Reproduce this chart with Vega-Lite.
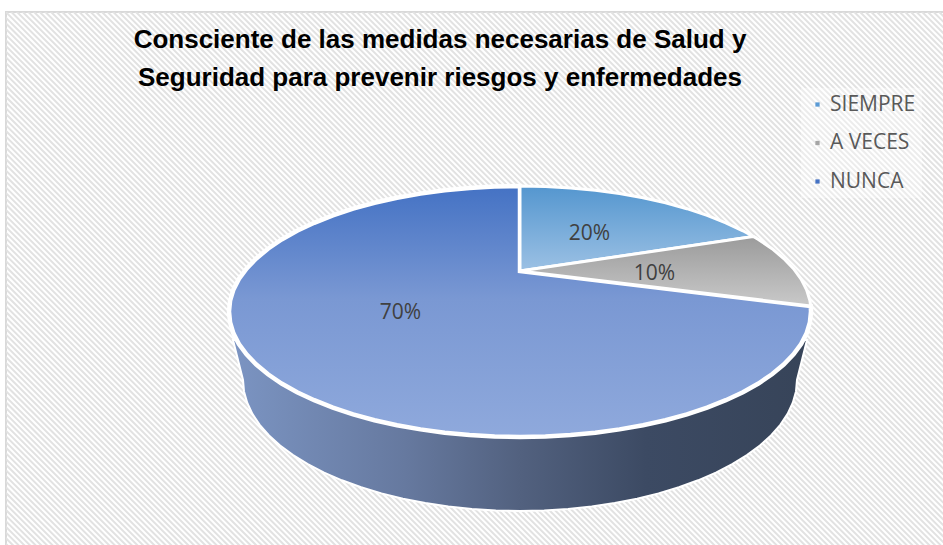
{"$schema":"https://vega.github.io/schema/vega-lite/v6.json","width":940,"height":536,"autosize":"none","padding":{"left":6,"top":12,"right":0,"bottom":0},"background":"white",
"title":{"text":["Consciente de las medidas necesarias de Salud y","Seguridad para prevenir riesgos y enfermedades"],"font":"Liberation Sans","fontWeight":"bold","fontSize":26,"color":"#000000","lineHeight":38.5,"anchor":"middle","frame":"group","baseline":"alphabetic","dx":-36,"dy":100,"offset":0},
"config":{"view":{"fill":"white","stroke":"#d9d9d9","strokeWidth":2}},
"datasets":{
"slices":[{"slice":"SIEMPRE","pct":0.2,"lx":589.5,"ly":234},{"slice":"A VECES","pct":0.1,"lx":654.5,"ly":274},{"slice":"NUNCA","pct":0.7,"lx":400.5,"ly":313}],
"hatch":[{"x":0,"y":545,"x2":745,"y2":-200}],
"outline":[
{"part":"SIEMPRE","seq":0,"x":520,"y":271},{"part":"SIEMPRE","seq":1,"x":520,"y":186},{"part":"SIEMPRE","seq":2,"x":545.4,"y":186.5},{"part":"SIEMPRE","seq":3,"x":570.5,"y":187.9},{"part":"SIEMPRE","seq":4,"x":595.3,"y":190.3},{"part":"SIEMPRE","seq":5,"x":619.5,"y":193.6},{"part":"SIEMPRE","seq":6,"x":643,"y":197.8},{"part":"SIEMPRE","seq":7,"x":665.5,"y":202.8},{"part":"SIEMPRE","seq":8,"x":686.9,"y":208.7},{"part":"SIEMPRE","seq":9,"x":707.1,"y":215.4},{"part":"SIEMPRE","seq":10,"x":725.8,"y":222.8},{"part":"SIEMPRE","seq":11,"x":742.9,"y":230.8},{"part":"SIEMPRE","seq":12,"x":753.3,"y":236.5},
{"part":"A VECES","seq":0,"x":520,"y":271},{"part":"A VECES","seq":1,"x":753.3,"y":236.5},{"part":"A VECES","seq":2,"x":758.4,"y":239.5},{"part":"A VECES","seq":3,"x":772,"y":248.7},{"part":"A VECES","seq":4,"x":783.7,"y":258.5},{"part":"A VECES","seq":5,"x":793.5,"y":268.6},{"part":"A VECES","seq":6,"x":801.1,"y":279},{"part":"A VECES","seq":7,"x":806.6,"y":289.7},{"part":"A VECES","seq":8,"x":809.9,"y":300.6},{"part":"A VECES","seq":9,"x":810.7,"y":306},
{"part":"NUNCA","seq":0,"x":520,"y":271},{"part":"NUNCA","seq":1,"x":810.7,"y":306},{"part":"NUNCA","seq":2,"x":811,"y":311.5},{"part":"NUNCA","seq":3,"x":809.9,"y":322.4},{"part":"NUNCA","seq":4,"x":806.6,"y":333.3},{"part":"NUNCA","seq":5,"x":801.1,"y":344},{"part":"NUNCA","seq":6,"x":793.5,"y":354.4},{"part":"NUNCA","seq":7,"x":783.7,"y":364.5},{"part":"NUNCA","seq":8,"x":772,"y":374.3},{"part":"NUNCA","seq":9,"x":758.4,"y":383.5},{"part":"NUNCA","seq":10,"x":742.9,"y":392.2},{"part":"NUNCA","seq":11,"x":725.8,"y":400.2},{"part":"NUNCA","seq":12,"x":707.1,"y":407.6},{"part":"NUNCA","seq":13,"x":686.9,"y":414.3},{"part":"NUNCA","seq":14,"x":665.5,"y":420.2},{"part":"NUNCA","seq":15,"x":643,"y":425.2},{"part":"NUNCA","seq":16,"x":619.5,"y":429.4},{"part":"NUNCA","seq":17,"x":595.3,"y":432.7},{"part":"NUNCA","seq":18,"x":570.5,"y":435.1},{"part":"NUNCA","seq":19,"x":545.4,"y":436.5},{"part":"NUNCA","seq":20,"x":520,"y":437},{"part":"NUNCA","seq":21,"x":494.6,"y":436.5},{"part":"NUNCA","seq":22,"x":469.5,"y":435.1},{"part":"NUNCA","seq":23,"x":444.7,"y":432.7},{"part":"NUNCA","seq":24,"x":420.5,"y":429.4},{"part":"NUNCA","seq":25,"x":397,"y":425.2},{"part":"NUNCA","seq":26,"x":374.5,"y":420.2},{"part":"NUNCA","seq":27,"x":353.1,"y":414.3},{"part":"NUNCA","seq":28,"x":332.9,"y":407.6},{"part":"NUNCA","seq":29,"x":314.2,"y":400.2},{"part":"NUNCA","seq":30,"x":297.1,"y":392.2},{"part":"NUNCA","seq":31,"x":281.6,"y":383.5},{"part":"NUNCA","seq":32,"x":268,"y":374.3},{"part":"NUNCA","seq":33,"x":256.3,"y":364.5},{"part":"NUNCA","seq":34,"x":246.5,"y":354.4},{"part":"NUNCA","seq":35,"x":238.9,"y":344},{"part":"NUNCA","seq":36,"x":233.4,"y":333.3},{"part":"NUNCA","seq":37,"x":230.1,"y":322.4},{"part":"NUNCA","seq":38,"x":229,"y":311.5},{"part":"NUNCA","seq":39,"x":230.1,"y":300.6},{"part":"NUNCA","seq":40,"x":233.4,"y":289.7},{"part":"NUNCA","seq":41,"x":238.9,"y":279},{"part":"NUNCA","seq":42,"x":246.5,"y":268.6},{"part":"NUNCA","seq":43,"x":256.3,"y":258.5},{"part":"NUNCA","seq":44,"x":268,"y":248.7},{"part":"NUNCA","seq":45,"x":281.6,"y":239.5},{"part":"NUNCA","seq":46,"x":297.1,"y":230.8},{"part":"NUNCA","seq":47,"x":314.2,"y":222.8},{"part":"NUNCA","seq":48,"x":332.9,"y":215.4},{"part":"NUNCA","seq":49,"x":353.1,"y":208.7},{"part":"NUNCA","seq":50,"x":374.5,"y":202.8},{"part":"NUNCA","seq":51,"x":397,"y":197.8},{"part":"NUNCA","seq":52,"x":420.5,"y":193.6},{"part":"NUNCA","seq":53,"x":444.7,"y":190.3},{"part":"NUNCA","seq":54,"x":469.5,"y":187.9},{"part":"NUNCA","seq":55,"x":494.6,"y":186.5},{"part":"NUNCA","seq":56,"x":520,"y":186},
{"part":"side","seq":0,"x":233,"y":340},{"part":"side","seq":1,"x":243,"y":380},{"part":"side","seq":2,"x":244,"y":391.4},{"part":"side","seq":3,"x":247.2,"y":402.7},{"part":"side","seq":4,"x":252.4,"y":413.9},{"part":"side","seq":5,"x":259.7,"y":424.8},{"part":"side","seq":6,"x":269,"y":435.4},{"part":"side","seq":7,"x":280.1,"y":445.5},{"part":"side","seq":8,"x":293.1,"y":455.1},{"part":"side","seq":9,"x":307.8,"y":464.2},{"part":"side","seq":10,"x":324.1,"y":472.6},{"part":"side","seq":11,"x":341.9,"y":480.3},{"part":"side","seq":12,"x":361.1,"y":487.3},{"part":"side","seq":13,"x":381.5,"y":493.4},{"part":"side","seq":14,"x":402.9,"y":498.7},{"part":"side","seq":15,"x":425.3,"y":503.1},{"part":"side","seq":16,"x":448.3,"y":506.5},{"part":"side","seq":17,"x":471.9,"y":509},{"part":"side","seq":18,"x":495.8,"y":510.5},{"part":"side","seq":19,"x":520,"y":511},{"part":"side","seq":20,"x":544.2,"y":510.5},{"part":"side","seq":21,"x":568.1,"y":509},{"part":"side","seq":22,"x":591.7,"y":506.5},{"part":"side","seq":23,"x":614.7,"y":503.1},{"part":"side","seq":24,"x":637.1,"y":498.7},{"part":"side","seq":25,"x":658.5,"y":493.4},{"part":"side","seq":26,"x":678.9,"y":487.3},{"part":"side","seq":27,"x":698.1,"y":480.3},{"part":"side","seq":28,"x":715.9,"y":472.6},{"part":"side","seq":29,"x":732.2,"y":464.2},{"part":"side","seq":30,"x":746.9,"y":455.1},{"part":"side","seq":31,"x":759.9,"y":445.5},{"part":"side","seq":32,"x":771,"y":435.4},{"part":"side","seq":33,"x":780.3,"y":424.8},{"part":"side","seq":34,"x":787.6,"y":413.9},{"part":"side","seq":35,"x":792.8,"y":402.7},{"part":"side","seq":36,"x":796,"y":391.4},{"part":"side","seq":37,"x":797,"y":380},{"part":"side","seq":38,"x":807,"y":340}
]},
"layer":[
{"data":{"name":"hatch"},"mark":{"type":"rule","clip":true,"stroke":"#e2e2e2","strokeWidth":1500,"strokeDash":[2,2]},"encoding":{"x":{"field":"x","type":"quantitative","scale":{"domain":[6,946],"nice":false,"zero":false},"axis":null},"y":{"field":"y","type":"quantitative","scale":{"domain":[548,12],"nice":false,"zero":false},"axis":null},"x2":{"field":"x2"},"y2":{"field":"y2"}}},
{"data":{"name":"slices"},"mark":{"type":"point","filled":true,"size":10,"opacity":1},"encoding":{"x":{"field":"lx","type":"quantitative"},"y":{"field":"ly","type":"quantitative"},"color":{"field":"slice","type":"nominal","scale":{"domain":["SIEMPRE","A VECES","NUNCA"],"range":["#5b9bd5","#a5a5a5","#4472c4"]},"legend":{"title":null,"orient":"none","legendX":795,"legendY":76,"symbolType":"square","symbolSize":18,"symbolOpacity":1,"labelFont":"Open Sans","labelFontSize":21,"labelColor":"#595959","rowPadding":16.5,"labelOffset":2,"fillColor":"rgba(255,255,255,0.35)","padding":6,"labelLimit":200}}}},
{"data":{"name":"outline"},"transform":[{"filter":"datum.part==='side'"}],"mark":{"type":"line","interpolate":"linear-closed","stroke":"white","strokeWidth":2,"fill":{"gradient":"linear","x1":0,"y1":0,"x2":1,"y2":0,"stops":[{"offset":0,"color":"#7b94c2"},{"offset":0.3,"color":"#66799f"},{"offset":0.5,"color":"#52617f"},{"offset":0.72,"color":"#3c4a63"},{"offset":1,"color":"#374459"}]}},"encoding":{"x":{"field":"x","type":"quantitative"},"y":{"field":"y","type":"quantitative"},"order":{"field":"seq","type":"quantitative"}}},
{"data":{"name":"outline"},"transform":[{"filter":"datum.part==='NUNCA'"}],"mark":{"type":"line","interpolate":"linear-closed","stroke":"white","strokeWidth":4.5,"fill":{"gradient":"linear","x1":0,"y1":0,"x2":0,"y2":1,"stops":[{"offset":0,"color":"#4472c4"},{"offset":0.45,"color":"#7a98d3"},{"offset":1,"color":"#8fa9dc"}]}},"encoding":{"x":{"field":"x","type":"quantitative"},"y":{"field":"y","type":"quantitative"},"order":{"field":"seq","type":"quantitative"}}},
{"data":{"name":"outline"},"transform":[{"filter":"datum.part==='SIEMPRE'"}],"mark":{"type":"line","interpolate":"linear-closed","stroke":"white","strokeWidth":3,"fill":{"gradient":"linear","x1":0,"y1":0,"x2":0,"y2":1,"stops":[{"offset":0,"color":"#5496cf"},{"offset":1,"color":"#9cc1e4"}]}},"encoding":{"x":{"field":"x","type":"quantitative"},"y":{"field":"y","type":"quantitative"},"order":{"field":"seq","type":"quantitative"}}},
{"data":{"name":"outline"},"transform":[{"filter":"datum.part==='A VECES'"}],"mark":{"type":"line","interpolate":"linear-closed","stroke":"white","strokeWidth":3,"fill":{"gradient":"linear","x1":0,"y1":0,"x2":0,"y2":1,"stops":[{"offset":0,"color":"#9b9b9b"},{"offset":1,"color":"#c9c9c9"}]}},"encoding":{"x":{"field":"x","type":"quantitative"},"y":{"field":"y","type":"quantitative"},"order":{"field":"seq","type":"quantitative"}}},
{"data":{"name":"slices"},"mark":{"type":"text","font":"Open Sans","fontSize":21,"color":"#404040"},"encoding":{"x":{"field":"lx","type":"quantitative"},"y":{"field":"ly","type":"quantitative"},"text":{"field":"pct","type":"quantitative","format":".0%"}}}
]}
